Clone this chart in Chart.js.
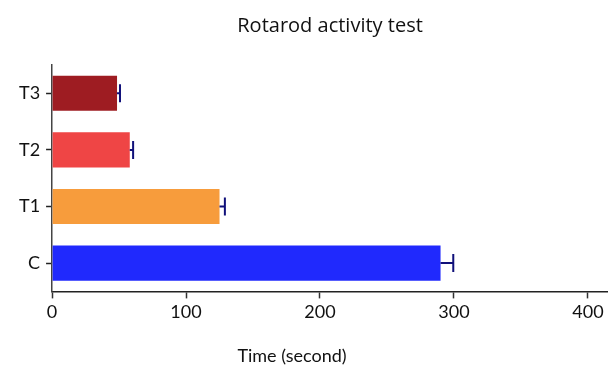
<!DOCTYPE html>
<html>
<head>
<meta charset="utf-8">
<script src="https://cdn.jsdelivr.net/npm/chart.js@4/dist/chart.umd.min.js"></script>
<style>
  html, body { margin: 0; padding: 0; background: #fff; }
  #wrap { width: 608px; height: 365px; }
</style>
</head>
<body>
<div id="wrap"><canvas id="chartBar"></canvas></div>
<script>
const groups = ['C', 'T1', 'T2', 'T3'];
const times = [290, 125, 58, 48.5];
const errors = [9.5, 4, 2.5, 2.2];
const barColors = ['#2029fd', '#f79c3c', '#ef4545', '#9e1c22'];
const xTicks = [0, 100, 200, 300, 400];
const chartTitle = 'Rotarod activity test';
const xTitle = 'Time (second)';

// error bars (plus side only), drawn on top of the bars
const errorBars = {
    id: 'errorBars',
    afterDatasetsDraw(chart) {
        const ctx = chart.ctx;
        const x = chart.scales.x;
        const meta = chart.getDatasetMeta(0);
        ctx.save();
        ctx.strokeStyle = '#10107a';
        ctx.lineWidth = 2;
        meta.data.forEach(function (bar, i) {
            const x0 = x.getPixelForValue(times[i]);
            const x1 = x.getPixelForValue(times[i] + errors[i]);
            const y = bar.y;
            ctx.beginPath();
            ctx.moveTo(x0, y);
            ctx.lineTo(x1, y);
            ctx.moveTo(x1, y - 9);
            ctx.lineTo(x1, y + 9);
            ctx.stroke();
        });
        ctx.restore();
    }
};

// titles placed by hand: main title over the plot area, axis title a bit left of it
const titles = {
    id: 'titles',
    afterDraw(chart) {
        const ctx = chart.ctx;
        const area = chart.chartArea;
        ctx.save();
        ctx.fillStyle = '#111';
        ctx.textAlign = 'center';
        ctx.textBaseline = 'alphabetic';
        ctx.font = '20px "Open Sans", Lato, sans-serif';
        ctx.fillText(chartTitle, (area.left + area.right) / 2, 32);
        ctx.font = '18px Lato, "Open Sans", sans-serif';
        ctx.fillText(xTitle, chart.width / 2 - 12, chart.height - 3);
        ctx.restore();
    }
};

Chart.defaults.font.family = 'Lato, "Open Sans", sans-serif';
Chart.defaults.color = '#111';

new Chart(document.getElementById('chartBar'), {
    type: 'bar',
    data: {
        labels: groups,
        datasets: [{
            label: 'Time',
            data: times,
            backgroundColor: barColors,
            categoryPercentage: 1,
            barPercentage: 0.62
        }]
    },
    options: {
        indexAxis: 'y',
        responsive: true,
        maintainAspectRatio: false,
        animation: false,
        layout: { padding: { top: 65, right: 0, bottom: 39, left: 13 } },
        plugins: {
            legend: { display: false },
            tooltip: { enabled: false },
            title: { display: false }
        },
        scales: {
            x: {
                min: 0,
                max: 415,
                afterBuildTicks(axis) {
                    axis.ticks = xTicks.map(v => ({ value: v }));
                },
                border: { display: true, color: '#222', width: 1.5 },
                grid: { drawOnChartArea: false, tickLength: 7, color: '#333', tickWidth: 1.5 },
                ticks: { font: { size: 18 }, color: '#111', padding: 3 }
            },
            y: {
                reverse: true,
                border: { display: true, color: '#444', width: 1.5 },
                grid: { offset: false, drawOnChartArea: false, tickLength: 6, color: '#222', tickWidth: 1.5 },
                ticks: { font: { size: 18 }, color: '#111', padding: 6 }
            }
        }
    },
    plugins: [errorBars, titles]
});
</script>
</body>
</html>
